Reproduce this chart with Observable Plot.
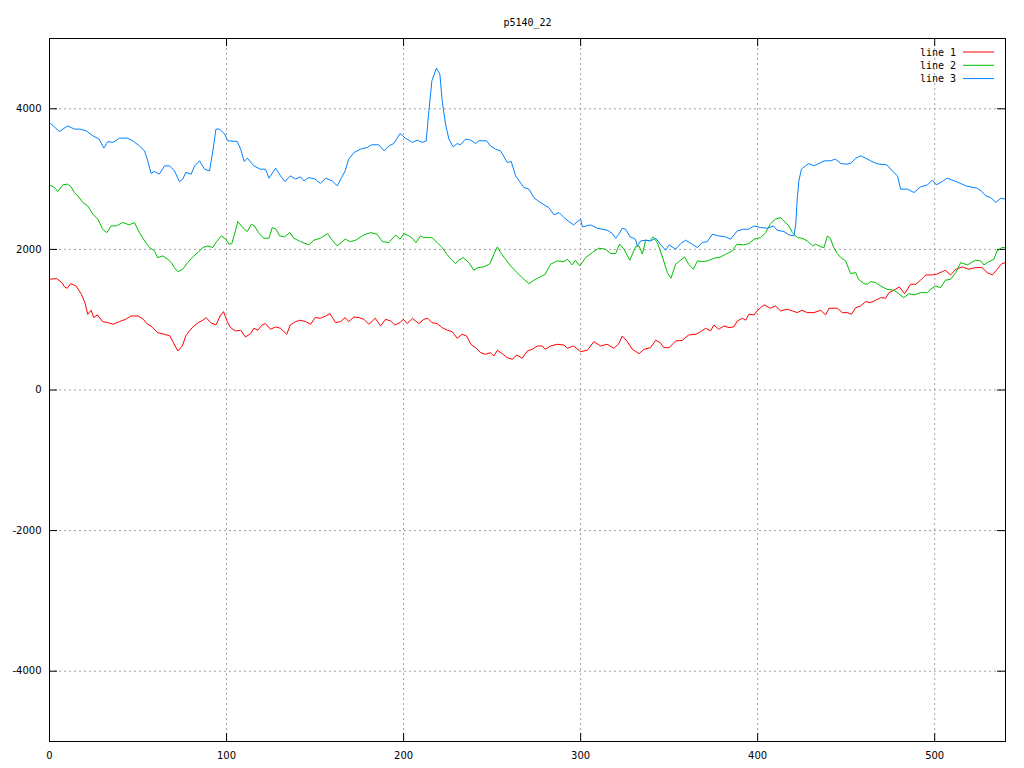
<!DOCTYPE html>
<html>
<head>
<meta charset="utf-8">
<script src="https://cdn.jsdelivr.net/npm/d3@7"></script>
<script src="https://cdn.jsdelivr.net/npm/@observablehq/plot@0.6"></script>
<style>
  html, body { margin: 0; padding: 0; background: #fff; }
  #chart { width: 1024px; height: 768px; }
</style>
</head>
<body>
<div id="chart"></div>
<script>
const title = "p5140_22";
const seriesNames = ["line 1", "line 2", "line 3"];
const seriesColors = ["#ff0000", "#00c000", "#0080ff"];
const xTicks = [0, 100, 200, 300, 400, 500];
const yTicks = [-4000, -2000, 0, 2000, 4000];

const line1X = [0,4,7,8.5,10,12,15,18,20,21.6,23.5,25,27,30,33,36,39.5,43,46,50,53,55,58,61,65,68,70,72.5,75,77,79,81,84,86.6,88.5,91,94,96.4,98.3,100.4,102.3,105,108,110.7,113.6,115.4,117.7,120,122,124.8,127.7,130.5,134,136,139,141.8,144.6,147.5,150,153,156,158.4,161.6,164.4,167,169,172,174.8,177.6,180.4,184,187,189.8,192.7,195,198,199.8,202,205,208.6,211.5,213.7,216,219,221.8,224.7,227.5,230.3,233,235.6,238,240.7,243.5,246.3,249,251,253,255.7,258.6,261.4,264,267,270,272.7,275.5,278.4,280,283,286.8,290.6,292.5,296,300,303.8,307.5,311.3,315,318.8,321.6,323.5,326.4,329.2,333,335.8,339.5,342.4,345,347,350,353.7,357.4,361,365,367.8,370.6,373.4,375.3,378,381,383.8,386.6,388.5,391.4,393.2,395,398,400,401.7,403.6,407.3,410,413,416.8,419.6,422.4,425,428,431.8,435.6,438.4,440.3,445,447.8,450.6,453,455.4,458.2,461,463.8,466.7,469.5,472.3,474.2,477,480,483,486.4,489.3,492,495,498.7,501,504.3,506,509,511.9,515.6,519.4,523,526.7,529.7,532.6,535.3,538,540];
const line1Y = [1575,1585,1527,1466,1447,1513,1480,1362,1243,1077,1134,1030,1068,973,958,935,973,1006,1053,1053,1006,944,897,816,792,769,673,555,626,769,840,897,958,992,1030,958,925,1053,1115,973,887,840,850,754,802,878,850,925,944,864,897,878,792,925,973,992,973,935,1030,1020,1053,1087,958,973,1030,973,1039,1030,1006,935,1020,911,1006,982,925,958,1006,944,1020,944,1006,1020,958,944,887,850,830,735,792,769,650,602,531,508,531,484,565,517,460,437,498,451,555,579,626,626,579,626,650,640,593,626,546,565,688,626,650,593,659,769,688,579,517,579,602,707,673,602,602,697,707,783,792,830,878,840,925,864,911,887,900,982,1020,992,1077,1068,1134,1172,1210,1163,1196,1125,1149,1125,1101,1134,1101,1101,1134,1068,1163,1163,1101,1101,1077,1172,1196,1257,1243,1276,1314,1305,1385,1419,1466,1371,1504,1504,1561,1637,1637,1646,1684,1703,1637,1718,1751,1718,1741,1741,1670,1637,1718,1798,1812];

const line2X = [0,2.8,4.7,7.5,10.3,12.2,14,16,18.8,21.6,24.5,27.3,30,32.4,34.8,37.7,41.4,45,48,50.8,53.7,56.5,59.3,61,64,66.8,68.8,70.6,72.5,75.3,78,81,83.8,86.6,89.4,92.3,94,97,99.6,101.3,103,105,106.4,108.8,111.7,114,115.8,118,121,124,125.8,128,130,132.8,135.8,138,141.8,146.5,149.3,153,157,159.7,162.5,167,170,172.9,177.6,181.4,185,188,191.7,195.5,198,200.2,203,205,207,209.6,211.5,213.4,216,219,221.8,224.7,227.5,229.4,231,233.7,236.9,239.7,242,245.4,248.8,251,253,254.8,257.6,260.5,264,268,270.8,273.6,276.4,280,283,286.8,290.6,292.5,295.3,297,299.6,302.8,306.6,310.3,314,317,319.8,322,324.5,327.8,331,333,334.9,336.7,339,341,343.3,346,349,351,353.7,356.5,358.8,361,363.7,366,368.7,371.6,375.3,379,382,385.7,388.3,392,395,398,401.7,404.5,407.3,410,413,415,417.7,419.6,422.4,425,428,431,432.8,435.6,437.5,439.4,441,443,445,447,449.7,452.5,455.4,457,460,462,463.8,466.7,469.5,473,477,480,482.6,485.5,488.3,492,495.9,497.7,500.6,503.4,506,509,511.9,514.7,518.5,523,526,527.8,530.6,533.4,535.3,538,540];
const line2Y = [2918,2880,2823,2918,2928,2890,2809,2762,2667,2619,2501,2430,2287,2239,2334,2334,2382,2349,2382,2239,2121,2026,1979,1883,1908,1860,1812,1741,1684,1718,1812,1893,1955,2026,2050,2026,2097,2192,2145,2074,2083,2263,2396,2320,2254,2358,2334,2239,2159,2159,2311,2287,2192,2178,2239,2159,2111,2064,2131,2159,2225,2131,2050,2145,2111,2131,2206,2239,2216,2111,2097,2206,2145,2225,2192,2159,2097,2192,2168,2168,2168,2097,2026,1922,1846,1798,1846,1883,1812,1703,1741,1751,1798,1932,2036,1955,1860,1765,1670,1575,1513,1561,1599,1646,1789,1836,1826,1860,1779,1846,1765,1883,1955,2017,2003,1941,1941,2074,2003,1846,2036,2050,1932,2131,2121,2178,2097,1908,1670,1590,1789,1846,1893,1789,1718,1836,1826,1836,1874,1893,1932,1979,2074,2064,2083,2145,2168,2239,2367,2430,2453,2396,2334,2239,2168,2159,2121,2050,2074,2036,2026,2192,2159,2026,1941,1883,1836,1656,1670,1575,1513,1504,1542,1527,1480,1433,1419,1362,1314,1371,1352,1385,1385,1433,1480,1456,1561,1575,1670,1812,1779,1846,1836,1779,1826,1860,1979,2026,2026];

const line3X = [0,5.6,10.3,14,17,20.7,24.5,28,30.7,33,35.8,39.5,44,47,50,53.7,55.5,57.4,59.3,62,65,67.8,70.6,73.4,75.3,77,80,82,84.7,87.6,90.4,92.3,94,96,99,100.6,106,108,110,111.7,115.4,119,122,124,127.7,130.5,133,136,139,141.8,143.7,146.5,150,153,156,159.7,162.5,165,167,169,172,175.7,179.5,182,186,189,191.7,194.5,196.4,198,201,205,207.7,210.5,212.8,214.3,216,218.6,220.5,221.8,223.7,225.6,228,230.3,232,235,237.9,240.7,242.5,246.9,249,252,254.8,258.6,260.8,263.3,266,268,270.8,273.6,276.4,279.3,282,285,287.8,290.6,293.4,296,300,301,305.6,309.4,315,318,319.8,321.6,323.5,325.4,328,331,332,334,336.7,339.5,342.4,345,348,350,353.7,356.5,359.3,363,366,368.7,371.6,374.4,378,382,384.7,388.5,392,395,398,401.7,405.5,409,411,414.9,417.7,420.5,421.5,422.4,423.3,424.7,427,429,431.8,434.6,437.5,441,444,447,449.7,452.5,455.4,458.2,461,463.8,465.7,468.5,473,476,479,480.8,484.6,488.3,492,495.9,498.7,501,504.3,507,511,514.7,517.5,520,524,526.7,528.8,531.6,534.5,537.3,540];
const line3Y = [3805,3677,3758,3711,3711,3687,3616,3569,3441,3535,3521,3583,3583,3545,3488,3402,3260,3080,3108,3070,3189,3189,3117,2965,3000,3094,3070,3189,3260,3141,3117,3402,3711,3711,3640,3545,3535,3426,3250,3298,3189,3141,3141,3013,3156,3046,2965,3046,3000,3032,2975,3022,3000,2937,3013,2975,2904,3022,3117,3284,3378,3426,3450,3488,3488,3402,3473,3506,3583,3649,3583,3521,3554,3521,3545,3972,4399,4580,4494,4114,3782,3569,3459,3506,3488,3569,3554,3506,3545,3545,3473,3426,3402,3236,3250,3046,2951,2880,2857,2738,2681,2634,2596,2491,2524,2453,2396,2349,2430,2320,2349,2301,2273,2225,2159,2216,2301,2287,2178,2145,2050,2121,2131,2121,2159,2074,1989,2064,2003,2083,2131,2074,2026,2097,2111,2216,2192,2178,2145,2263,2287,2287,2334,2311,2301,2334,2273,2254,2206,2192,2358,2738,2975,3141,3189,3221,3189,3221,3260,3260,3284,3221,3213,3221,3298,3331,3298,3260,3236,3213,3203,3117,3046,2857,2857,2809,2890,2918,2985,2918,2965,3013,2975,2937,2904,2890,2871,2823,2762,2738,2667,2729,2714];

const allX = [line1X, line2X, line3X];
const allY = [line1Y, line2Y, line3Y];
const data = [];
allX.forEach((xs, s) => xs.forEach((x, i) => data.push({series: seriesNames[s], x, y: allY[s][i]})));

const W = 1024, H = 768, mL = 49, mR = 19, mT = 38, mB = 27;
const fw = W - mL - mR, fh = H - mT - mB, tk = 8;
const font = "DejaVu Sans, sans-serif";

const chart = Plot.plot({
  width: W, height: H,
  marginLeft: mL, marginRight: mR, marginTop: mT, marginBottom: mB,
  style: {fontFamily: font, fontSize: "10px", background: "#fff", color: "#000"},
  x: {domain: [0, 540], ticks: xTicks, tickFormat: d => String(d), label: null},
  y: {domain: [-5000, 5000], ticks: yTicks, tickFormat: d => String(d), label: null},
  color: {domain: seriesNames, range: seriesColors},
  marks: [
    Plot.ruleX(xTicks.filter(d => d > 0), {stroke: "#a0a0a0", strokeDasharray: "2,3", strokeWidth: 1}),
    Plot.ruleY(yTicks, {stroke: "#a0a0a0", strokeDasharray: "2,3", strokeWidth: 1}),
    Plot.ruleX(xTicks, {stroke: "#000", insetTop: fh - tk}),
    Plot.ruleX(xTicks, {stroke: "#000", insetBottom: fh - tk}),
    Plot.ruleY(yTicks, {stroke: "#000", insetRight: fw - tk}),
    Plot.ruleY(yTicks, {stroke: "#000", insetLeft: fw - tk}),
    Plot.axisX(xTicks, {tickSize: 0, tickPadding: 10, fontSize: 10, fontFamily: font}),
    Plot.axisY(yTicks, {tickSize: 0, tickPadding: 8, fontSize: 10, fontFamily: font, tickFormat: d => String(d)}),
    Plot.line(data, {x: "x", y: "y", z: "series", stroke: "series", strokeWidth: 1, curve: "linear"}),
    Plot.frame({stroke: "#000", strokeWidth: 1}),
    Plot.text([title], {frameAnchor: "top", dy: -20, text: d => d, fontFamily: "DejaVu Sans Mono, monospace", fontSize: 10, fill: "#000"})
  ]
});

// legend (gnuplot style, top-right inside the frame)
const svg = d3.select(chart);
const lg = svg.append("g").attr("font-family", "DejaVu Sans Mono, monospace").attr("font-size", 10);
seriesNames.forEach((name, i) => {
  const yy = 52 + i * 13.3;
  lg.append("text").attr("x", 956).attr("y", yy).attr("dy", "0.35em").attr("text-anchor", "end").attr("fill", "#000").text(name);
  lg.append("line").attr("x1", 963).attr("x2", 994).attr("y1", yy).attr("y2", yy).attr("stroke", seriesColors[i]).attr("stroke-width", 1);
});

document.getElementById("chart").appendChild(chart);
</script>
</body>
</html>
